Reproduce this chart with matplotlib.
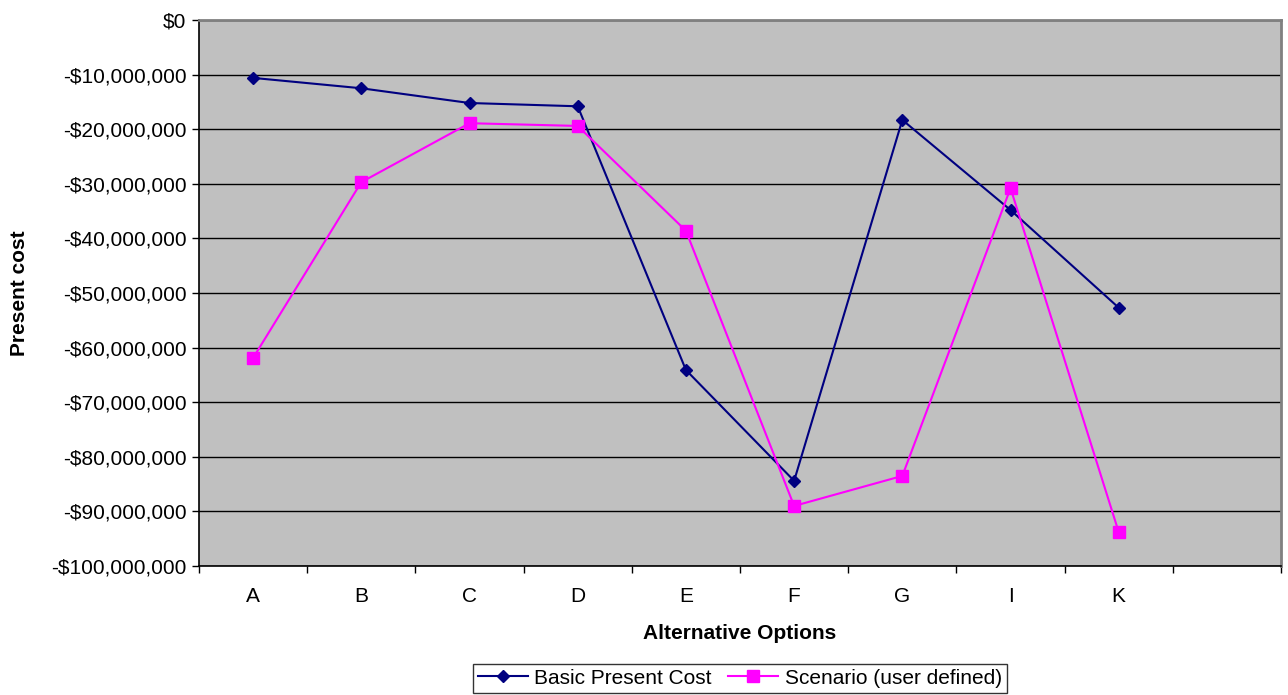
import matplotlib.pyplot as plt
from matplotlib.ticker import FuncFormatter, FixedLocator

plt.rcParams['font.family'] = ['Liberation Sans', 'DejaVu Sans']

# options (last slot is empty in the original chart)
options = ['A', 'B', 'C', 'D', 'E', 'F', 'G', 'I', 'K', '']
basic = [-10.6, -12.5, -15.2, -15.8, -64.1, -84.4, -18.3, -34.8, -52.7]
scenario = [-61.9, -29.7, -18.9, -19.4, -38.6, -89.0, -83.5, -30.8, -93.8]


def money(v, pos):
    v = int(round(v * 1e6))
    if v == 0:
        return '$0'
    return '-${:,}'.format(abs(v))


fig = plt.figure(figsize=(12.88, 6.95), dpi=100)
ax = fig.add_axes([0.1545, 0.1856, 0.8401, 0.7856])
ax.set_facecolor('#c0c0c0')

x = list(range(len(basic)))
ax.plot(x, basic, '-D', color='#000080', markersize=6.5, linewidth=1.5,
        label='Basic Present Cost')
ax.plot(x, scenario, '-s', color='#ff00ff', markersize=8, linewidth=1.5,
        label='Scenario (user defined)')

ax.set_xlim(-0.5, len(options) - 0.5)
ax.set_ylim(-100, 0)
ax.set_yticks(range(-100, 1, 10))
ax.yaxis.set_major_formatter(FuncFormatter(money))
ax.set_xticks(range(len(options)))
ax.set_xticklabels(options)
ax.xaxis.set_minor_locator(FixedLocator([i - 0.5 for i in range(len(options) + 1)]))
ax.tick_params(axis='x', which='major', length=0, pad=15, labelsize=15)
ax.tick_params(axis='x', which='minor', length=5, direction='out', width=1)
ax.tick_params(axis='y', length=5, direction='out', width=1, labelsize=15, pad=4)
ax.grid(axis='y', color='black', linewidth=1)
ax.set_axisbelow(True)

# grey frame round the plot area, black axis lines
for s in ['top', 'right']:
    ax.spines[s].set_color('#808080')
    ax.spines[s].set_linewidth(2)
for s in ['left', 'bottom']:
    ax.spines[s].set_color('#000000')
    ax.spines[s].set_linewidth(1.2)

ax.set_xlabel('Alternative Options', fontsize=15, fontweight='bold')
ax.xaxis.set_label_coords(0.5, -0.1245)
ax.xaxis.label.set_verticalalignment('center')
ax.set_ylabel('Present cost', fontsize=15, fontweight='bold')
ax.yaxis.set_label_coords(-0.166, 0.5)
ax.yaxis.label.set_verticalalignment('center')

fig.legend(loc='lower center', bbox_to_anchor=(0.5745, -0.012), ncol=2,
           fontsize=15, frameon=True, fancybox=False, edgecolor='black',
           handlelength=2.4, handletextpad=0.3, columnspacing=0.8,
           borderpad=0.25)

fig.savefig('out.png', dpi=100)
